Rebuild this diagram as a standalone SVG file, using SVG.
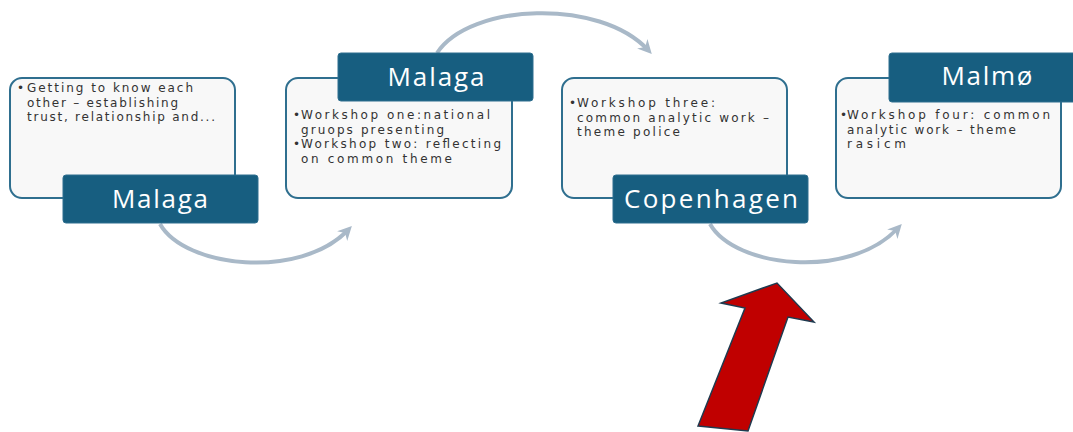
<svg xmlns="http://www.w3.org/2000/svg" width="1073" height="432" viewBox="0 0 1073 432">
<defs>
<style>
.box{fill:#f8f8f8;stroke:#2f6f8f;stroke-width:2}
.lab{fill:#175e80;stroke:#2f6f8f;stroke-width:1}
.lt{font-family:"Open Sans","Liberation Sans",sans-serif;font-size:26px;fill:#ffffff;text-anchor:middle}
.bt{font-family:"DejaVu Sans","Liberation Sans",sans-serif;font-size:12px;fill:#333333}
.arc{fill:none;stroke:#a9b9c8;stroke-width:4;marker-end:url(#ah)}
</style>
<marker id="ah" viewBox="0 0 10 10" refX="6" refY="5" markerWidth="3.5" markerHeight="3.5" orient="auto" markerUnits="strokeWidth">
<path d="M0,0 L10,5 L0,10 L3,5 Z" fill="#a9b9c8"/>
</marker>
</defs>
<rect width="1073" height="432" fill="#ffffff"/>
<g id="connectors">
<path class="arc" d="M160,224 C185,268 300,280 348,230"/>
<path class="arc" d="M437,53 C470,3 600,-2 648,50"/>
<path class="arc" d="M710,224 C735,268 850,280 898,228"/>
</g>
<g id="node1">
<rect class="box" x="10" y="78" width="225" height="120" rx="12"/>
<text class="bt" x="17" y="92">•</text>
<text class="bt" x="27" y="92" textLength="166">Getting to know each</text>
<text class="bt" x="27" y="106.5" textLength="151">other – establishing</text>
<text class="bt" x="27" y="121" textLength="188">trust, relationship and...</text>
<rect class="lab" x="63" y="175" width="195" height="48" rx="3"/>
<text class="lt" x="160" y="208" textLength="96">Malaga</text>
</g>
<g id="node2">
<rect class="box" x="286" y="78" width="226" height="120" rx="12"/>
<rect class="lab" x="338" y="53" width="195" height="48" rx="3"/>
<text class="lt" x="436" y="86" textLength="97">Malaga</text>
<text class="bt" x="293" y="119">•</text>
<text class="bt" x="301" y="119" textLength="189">Workshop one:national</text>
<text class="bt" x="301" y="133.5" textLength="143">gruops presenting</text>
<text class="bt" x="293" y="148">•</text>
<text class="bt" x="301" y="148" textLength="200">Workshop two: reflecting</text>
<text class="bt" x="301" y="162.5" textLength="151">on common theme</text>
</g>
<g id="node3">
<rect class="box" x="562" y="78" width="225" height="120" rx="12"/>
<text class="bt" x="569" y="107">•</text>
<text class="bt" x="577" y="107" textLength="138">Workshop three:</text>
<text class="bt" x="577" y="121.5" textLength="192">common analytic work –</text>
<text class="bt" x="577" y="136" textLength="103">theme police</text>
<rect class="lab" x="613" y="175" width="195" height="48" rx="3"/>
<text class="lt" x="711" y="208" textLength="174">Copenhagen</text>
</g>
<g id="node4">
<rect class="box" x="836" y="78" width="225" height="120" rx="12"/>
<rect class="lab" x="889" y="53" width="190" height="49" rx="3"/>
<text class="lt" x="987" y="85" textLength="91">Malmø</text>
<text class="bt" x="840" y="119">•</text>
<text class="bt" x="847" y="119" textLength="203">Workshop four: common</text>
<text class="bt" x="847" y="133.5" textLength="169">analytic work – theme</text>
<text class="bt" x="847" y="148" textLength="59">rasicm</text>
</g>
<g id="red-arrow">
<polygon points="698,426 748,431 788,317 814,322 777,283 721,303 745,308" fill="#c00000" stroke="#1f3a4f" stroke-width="1.5" stroke-linejoin="miter"/>
</g>
</svg>
